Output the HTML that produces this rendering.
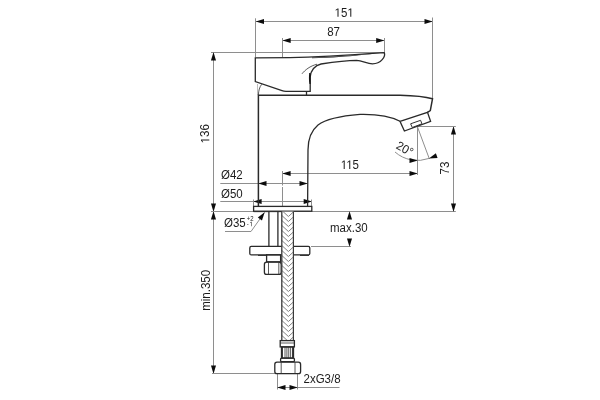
<!DOCTYPE html>
<html><head><meta charset="utf-8"><style>
html,body{margin:0;padding:0;background:#fff;width:600px;height:400px;overflow:hidden}
svg{display:block;will-change:transform}
text{font-family:"Liberation Sans",sans-serif;font-size:11.5px;fill:#1c1c1c}
.d{stroke:#8e8e8e;stroke-width:1;fill:none}
.o{stroke:#2a2a2a;stroke-width:1.3;fill:none}
.t{stroke:#303030;stroke-width:0.8;fill:none}
.a{fill:#0c0c0c;stroke:none}
.g1{fill:#1c1c1c}
</style></head><body>
<svg width="600" height="400" viewBox="0 0 600 400">
<!-- 151 -->
<line class="d" x1="256" y1="21.5" x2="432.5" y2="21.5"/>
<path class="a" transform="translate(256,21.5) rotate(180)" d="M0.3 0 L-8 -2.55 L-8 2.55 Z"/>
<path class="a" transform="translate(432.5,21.5)" d="M0.3 0 L-8 -2.55 L-8 2.55 Z"/>
<line class="d" x1="255.5" y1="18.3" x2="255.5" y2="57.5"/>
<line class="d" x1="432.5" y1="17.5" x2="432.5" y2="98"/>
<g transform="translate(334.6,16.7) scale(1,1.05)"><text> 5 </text><path class="g1" transform="translate(0.000,0) scale(0.005615,-0.005615)" d="M515 0V1237L197 1010V1180L530 1409H696V0Z"/><path class="g1" transform="translate(12.792,0) scale(0.005615,-0.005615)" d="M515 0V1237L197 1010V1180L530 1409H696V0Z"/></g>
<!-- 87 -->
<line class="d" x1="282.7" y1="40.5" x2="384.2" y2="40.5"/>
<path class="a" transform="translate(282.7,40.5) rotate(180)" d="M0.3 0 L-8 -2.55 L-8 2.55 Z"/>
<path class="a" transform="translate(384.2,40.5)" d="M0.3 0 L-8 -2.55 L-8 2.55 Z"/>
<line class="d" x1="282.5" y1="38" x2="282.5" y2="57.5"/>
<line class="d" x1="384.5" y1="38" x2="384.5" y2="52.5"/>
<text transform="translate(327.2,35.7) scale(1,1.05)">87</text>
<!-- top ext -->
<line class="d" x1="211" y1="52.5" x2="384.5" y2="52.5"/>
<!-- 136 / 350 vertical -->
<line class="d" x1="213.5" y1="52.5" x2="213.5" y2="373.5"/>
<path class="a" transform="translate(213.5,52.5) rotate(-90)" d="M0.3 0 L-8 -2.55 L-8 2.55 Z"/>
<path class="a" transform="translate(213.5,211.5) rotate(90)" d="M0.3 0 L-8 -2.55 L-8 2.55 Z"/>
<path class="a" transform="translate(213.5,211.5) rotate(-90)" d="M0.3 0 L-8 -2.55 L-8 2.55 Z"/>
<path class="a" transform="translate(213.5,373.5) rotate(90)" d="M0.3 0 L-8 -2.55 L-8 2.55 Z"/>
<g transform="translate(209.3,143.4) rotate(-90) scale(1,1.05)"><text> 36</text><path class="g1" transform="translate(0.000,0) scale(0.005615,-0.005615)" d="M515 0V1237L197 1010V1180L530 1409H696V0Z"/></g>
<text transform="translate(210,310.8) rotate(-90) scale(1,1.05)">min.350</text>
<!-- base ext line -->
<line class="d" x1="211" y1="211.5" x2="455.8" y2="211.5"/>
<line class="d" x1="212" y1="373.5" x2="275" y2="373.5"/>
<!-- 2xG3/8 -->
<line class="d" x1="277.5" y1="373.5" x2="277.5" y2="389.5"/>
<line class="d" x1="297.5" y1="373.5" x2="297.5" y2="389.5"/>
<line class="d" x1="277.5" y1="387.5" x2="339.5" y2="387.5"/>
<path class="a" transform="translate(277.5,387.5) rotate(180)" d="M0.3 0 L-8 -2.55 L-8 2.55 Z"/>
<path class="a" transform="translate(297.5,387.5)" d="M0.3 0 L-8 -2.55 L-8 2.55 Z"/>
<text transform="translate(303.5,382.5) scale(1,1.05)">2xG3/8</text>
<!-- max.30 -->
<line class="d" x1="311" y1="246.5" x2="351" y2="246.5"/>
<path class="a" transform="translate(349.5,211.5) rotate(-90)" d="M0.3 0 L-8 -2.55 L-8 2.55 Z"/>
<path class="a" transform="translate(349.5,246.5) rotate(90)" d="M0.3 0 L-8 -2.55 L-8 2.55 Z"/>
<text transform="translate(330,232) scale(1,1.05)">max.30</text>
<!-- 73 -->
<line class="d" x1="453.5" y1="126.5" x2="453.5" y2="211.5"/>
<path class="a" transform="translate(453.5,126.5) rotate(-90)" d="M0.3 0 L-8 -2.55 L-8 2.55 Z"/>
<path class="a" transform="translate(453.5,211.5) rotate(90)" d="M0.3 0 L-8 -2.55 L-8 2.55 Z"/>
<line class="d" x1="417.5" y1="126.5" x2="455.8" y2="126.5"/>
<text transform="translate(448.5,174.5) rotate(-90) scale(1,1.05)">73</text>
<!-- 115 -->
<line class="d" x1="282.6" y1="173.5" x2="417.5" y2="173.5"/>
<path class="a" transform="translate(282.6,173.5) rotate(180)" d="M0.3 0 L-8 -2.55 L-8 2.55 Z"/>
<path class="a" transform="translate(417.5,173.5)" d="M0.3 0 L-8 -2.55 L-8 2.55 Z"/>
<g transform="translate(340.8,168.9) scale(1,1.05)"><path class="g1" transform="scale(0.005615,-0.005615)" d="M515 0V1237L197 1010V1180L530 1409H696V0Z"/><path class="g1" transform="translate(5.55,0) scale(0.005615,-0.005615)" d="M515 0V1237L197 1010V1180L530 1409H696V0Z"/><text x="11.6">5</text></g>
<line class="d" x1="282.5" y1="171" x2="282.5" y2="185.5"/>
<line class="d" x1="282.5" y1="187" x2="282.5" y2="206.3"/>
<!-- angle -->
<line class="d" x1="417.5" y1="127" x2="417.5" y2="175"/>
<line class="d" x1="417.5" y1="127" x2="429.4" y2="159"/>
<path class="d" d="M395 152 A34.25 34.25 0 0 0 429.2 158.4"/>
<path class="a" transform="translate(417.5,160.5)" d="M0.3 0 L-8 -2.55 L-8 2.55 Z"/>
<path class="a" transform="translate(429.2,158.4) rotate(160)" d="M0.3 0 L-8 -2.55 L-8 2.55 Z"/>
<text transform="translate(395.2,148.1) rotate(29) scale(1,1.05)">20°</text>
<!-- Ø42 -->
<line class="d" x1="220.3" y1="183.5" x2="307.5" y2="183.5"/>
<path class="a" transform="translate(258.5,183.5) rotate(180)" d="M0.3 0 L-8 -2.55 L-8 2.55 Z"/>
<path class="a" transform="translate(307.5,183.5)" d="M0.3 0 L-8 -2.55 L-8 2.55 Z"/>
<text transform="translate(221,179.1) scale(1,1.05)">Ø42</text>
<!-- Ø50 -->
<line class="d" x1="220.3" y1="201.5" x2="311.8" y2="201.5"/>
<path class="a" transform="translate(253.6,201.5) rotate(180)" d="M0.3 0 L-8 -2.55 L-8 2.55 Z"/>
<path class="a" transform="translate(311.7,201.5)" d="M0.3 0 L-8 -2.55 L-8 2.55 Z"/>
<line class="d" x1="253.5" y1="199.5" x2="253.5" y2="206.3"/>
<line class="d" x1="311.5" y1="199.5" x2="311.5" y2="206.3"/>
<text transform="translate(221,197.6) scale(1,1.05)">Ø50</text>
<!-- Ø35 -->
<path class="d" d="M225 231.5 L251 231.5 L264.5 212.5"/>
<path class="a" transform="translate(264.5,212.5) rotate(-54.6)" d="M0.3 0 L-8 -2.55 L-8 2.55 Z"/>
<text transform="translate(224,226.9) scale(1,1.05)">Ø35</text>
<text transform="translate(246.8,220.5) scale(1,1.05)" style="font-size:6px">+2</text>
<g transform="translate(246.7,226.2) scale(1,1.05)"><text style="font-size:6px">- </text><path class="g1" transform="translate(2.9,0) scale(0.002930,-0.002930)" d="M515 0V1237L197 1010V1180L530 1409H696V0Z"/></g>

<!-- OBJECT -->
<!-- handle -->
<path class="o" d="M255.3 57.8 L290 57.6 C320 57 350 55 384.2 52.6 C386 56.5 381 63.8 372.5 63.8 C367 63.8 363 61 356.5 60.4 C345 60.4 332 62.3 321 64 C315 65.2 310.6 70.5 310.2 77 L310.2 91.3 L286 91.3 C284 91.3 283 91 282 90.6 L255.3 81.5 Z"/>
<path d="M309.2 73 C308.8 77 308.8 81 309.5 84 L310.6 84 L310.6 73 Z" fill="#141414"/>
<path d="M312 57.4 C330 56.9 350 55.6 380 53.2 C350 56.4 330 57.9 312 58.2 Z" fill="#2a2a2a"/>
<path class="t" d="M302 73.8 C305 70 310 66 317 64.2"/>
<line class="o" x1="306.5" y1="91.3" x2="306.5" y2="95"/>
<path class="t" d="M261.7 84.3 C259.5 87 258.6 90.5 258.4 95"/>
<line class="d" style="stroke:#bbb" x1="257.5" y1="84" x2="257.5" y2="95"/>
<!-- body -->
<path class="o" style="stroke-width:1.5" d="M258.4 206.5 L258.4 95.2 L400 95.2 C415 95.5 425 96.5 432.5 98.8 L430.3 110.6 L427.5 112.3"/>
<path class="o" d="M307.6 206.5 L308 150 C308 138 312 130 318 125 C326 119 340 116 360 114.4 C378 114 392 117 400 121.3"/>
<!-- aerator -->
<path class="o" d="M400 121.3 L427.5 112.3 L430.6 121.3 L404.4 131 Z"/>
<path class="t" style="stroke-width:1" d="M410.6 123.8 L420.6 120.3 L421.9 123.8 L412.3 127.5 Z"/>
<!-- base plate -->
<rect class="o" x="253.6" y="206.4" width="58.2" height="4.8" />
<line class="o" style="stroke-width:0.7" x1="253.6" y1="211.7" x2="290" y2="211.7"/>
<!-- pipe -->
<line class="o" x1="268.9" y1="211.5" x2="268.9" y2="246.4"/>
<line class="o" x1="277.9" y1="211.5" x2="277.9" y2="246.4"/>
<!-- washer -->
<rect class="o" x="249.8" y="246.4" width="60" height="8.5" rx="1.5"/>
<line class="o" style="stroke-width:1" x1="258" y1="255.4" x2="267" y2="255.4"/>
<line class="o" style="stroke-width:1" x1="300" y1="255.4" x2="309" y2="255.4"/>
<!-- neck & nut -->
<rect class="o" x="266.6" y="254.8" width="14" height="7"/>
<rect class="o" x="264.4" y="262.2" width="16.8" height="12.2" rx="2.2"/>
<line class="t" x1="268.5" y1="262.2" x2="268.5" y2="274.4"/>
<line class="t" x1="278.8" y1="262.2" x2="278.8" y2="274.4"/>
<!-- hose -->
<rect x="281.8" y="211.6" width="11.6" height="129" fill="#fff"/>
<path d="M283.05 211.60L288.40 216.50 M288.40 216.50L293.79 211.60 M281.30 215.00L288.40 221.50 M288.40 221.50L293.90 216.50 M281.30 220.00L288.40 226.50 M288.40 226.50L293.90 221.50 M281.30 225.00L288.40 231.50 M288.40 231.50L293.90 226.50 M281.30 230.00L288.40 236.50 M288.40 236.50L293.90 231.50 M281.30 235.00L288.40 241.50 M288.40 241.50L293.90 236.50 M281.30 240.00L288.40 246.50 M288.40 246.50L293.90 241.50 M281.30 245.00L288.40 251.50 M288.40 251.50L293.90 246.50 M281.30 250.00L288.40 256.50 M288.40 256.50L293.90 251.50 M281.30 255.00L288.40 261.50 M288.40 261.50L293.90 256.50 M281.30 260.00L288.40 266.50 M288.40 266.50L293.90 261.50 M281.30 265.00L288.40 271.50 M288.40 271.50L293.90 266.50 M281.30 270.00L288.40 276.50 M288.40 276.50L293.90 271.50 M281.30 275.00L288.40 281.50 M288.40 281.50L293.90 276.50 M281.30 280.00L288.40 286.50 M288.40 286.50L293.90 281.50 M281.30 285.00L288.40 291.50 M288.40 291.50L293.90 286.50 M281.30 290.00L288.40 296.50 M288.40 296.50L293.90 291.50 M281.30 295.00L288.40 301.50 M288.40 301.50L293.90 296.50 M281.30 300.00L288.40 306.50 M288.40 306.50L293.90 301.50 M281.30 305.00L288.40 311.50 M288.40 311.50L293.90 306.50 M281.30 310.00L288.40 316.50 M288.40 316.50L293.90 311.50 M281.30 315.00L288.40 321.50 M288.40 321.50L293.90 316.50 M281.30 320.00L288.40 326.50 M288.40 326.50L293.90 321.50 M281.30 325.00L288.40 331.50 M288.40 331.50L293.90 326.50 M281.30 330.00L288.40 336.50 M288.40 336.50L293.90 331.50 M281.30 335.00L287.42 340.60 M289.39 340.60L293.90 336.50 M281.30 340.00L281.96 340.60" stroke="#7c7c7c" stroke-width="0.95" fill="none"/>
<line class="o" style="stroke:#3a3a3a;stroke-width:1.3" x1="281.8" y1="211.6" x2="281.8" y2="340.6"/>
<line class="o" style="stroke:#3a3a3a;stroke-width:1.2" x1="293.4" y1="211.6" x2="293.4" y2="340.6"/>
<!-- lower connectors -->
<rect class="o" x="280.2" y="340.6" width="14.2" height="6.3"/>
<line class="t" x1="280.2" y1="343" x2="294.4" y2="343"/>
<rect class="o" x="281.5" y="346.9" width="12" height="11.2"/>
<line class="o" style="stroke-width:1.8" x1="282" y1="347" x2="282" y2="358"/>
<line class="o" style="stroke-width:1.8" x1="293" y1="347" x2="293" y2="358"/>
<line class="t" x1="285" y1="347" x2="285" y2="358"/>
<line class="t" x1="286.9" y1="347" x2="286.9" y2="358"/>
<line class="t" x1="288.75" y1="347" x2="288.75" y2="358"/>
<line class="t" x1="290.6" y1="347" x2="290.6" y2="358"/>
<rect class="o" x="280.6" y="358.1" width="13.8" height="3.6" rx="1"/>
<rect class="o" x="274.8" y="362.2" width="25.8" height="11.5" rx="2.2"/>
<line class="t" x1="281.2" y1="362.2" x2="281.2" y2="373.7"/>
<line class="t" x1="295" y1="362.2" x2="295" y2="373.7"/>
</svg>
</body></html>
